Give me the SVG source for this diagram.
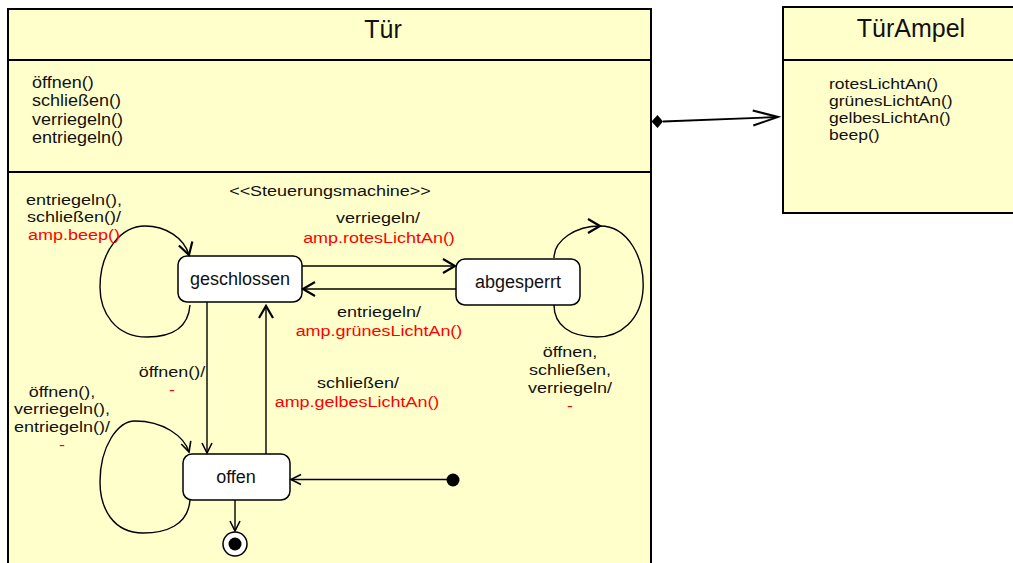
<svg xmlns="http://www.w3.org/2000/svg" width="1013" height="563" viewBox="0 0 1013 563">
<style>
  text { font-family: "Liberation Sans", Arial, sans-serif; fill: #111; }
  .cls { fill: #ffffcc; stroke: #000; stroke-width: 2; }
  .sep { stroke: #000; stroke-width: 2; }
  .title { font-size: 25px; text-anchor: middle; }
  .meth { font-size: 16px; }
  .ameth { font-size: 15px; }
  .lbl { font-size: 15.5px; text-anchor: middle; }
  .red { fill: #ff0000; }
  .state { fill: #fff; stroke: #000; stroke-width: 1.5; }
  .sname { font-size: 18px; text-anchor: middle; }
  .tr { fill: none; stroke: #000; stroke-width: 1.4; }
</style>
<defs>
  <marker id="open" markerUnits="userSpaceOnUse" markerWidth="20" markerHeight="20" viewBox="-16 -10 20 20" refX="0" refY="0" orient="auto">
    <path d="M-12,-7 L0,0 L-12,7" fill="none" stroke="#000" stroke-width="2.2"/>
  </marker>
  <marker id="small" markerUnits="userSpaceOnUse" markerWidth="16" markerHeight="16" viewBox="-12 -8 16 16" refX="0" refY="0" orient="auto">
    <path d="M-10,-5 L0,0 L-10,5" fill="none" stroke="#000" stroke-width="1.6"/>
  </marker>
  <marker id="big" markerUnits="userSpaceOnUse" markerWidth="32" markerHeight="20" viewBox="-28 -10 32 20" refX="0" refY="0" orient="auto">
    <path d="M-25,-7.5 L0,0 L-25,7.5" fill="none" stroke="#000" stroke-width="2"/>
  </marker>
</defs>

<!-- Class Tür -->
<g id="tuer">
  <rect class="cls" x="8" y="9" width="643" height="570"/>
  <line class="sep" x1="8" y1="60" x2="651" y2="60"/>
  <line class="sep" x1="8" y1="172" x2="651" y2="172"/>
  <text class="title" x="383" y="38">Tür</text>
  <g transform="scale(1.125 1)">
    <text class="meth" x="28.44" y="88">öffnen()</text>
    <text class="meth" x="28.44" y="106.5">schließen()</text>
    <text class="meth" x="28.44" y="125">verriegeln()</text>
    <text class="meth" x="28.44" y="143.5">entriegeln()</text>
  </g>
  <g transform="scale(1.16 1)">
    <text class="lbl" x="284.48" y="196">&lt;&lt;Steuerungsmachine&gt;&gt;</text>
  </g>
</g>

<!-- Class TürAmpel -->
<g id="tuerampel">
  <rect class="cls" x="783" y="7" width="240" height="206"/>
  <line class="sep" x1="783" y1="60" x2="1013" y2="60"/>
  <text class="title" x="911" y="37">TürAmpel</text>
  <g transform="scale(1.167 1)">
    <text class="ameth" x="710.4" y="89">rotesLichtAn()</text>
    <text class="ameth" x="710.4" y="106">grünesLichtAn()</text>
    <text class="ameth" x="710.4" y="123">gelbesLichtAn()</text>
    <text class="ameth" x="710.4" y="140">beep()</text>
  </g>
</g>

<!-- States -->
<g id="geschlossen">
  <rect class="state" x="178" y="256" width="124" height="46" rx="9"/>
  <text class="sname" x="240" y="285">geschlossen</text>
</g>
<g id="abgesperrt">
  <rect class="state" x="456" y="259" width="124" height="46" rx="9"/>
  <text class="sname" x="518" y="288">abgesperrt</text>
</g>
<g id="offen">
  <rect class="state" x="183" y="454" width="107" height="46" rx="9"/>
  <text class="sname" x="236" y="483">offen</text>
</g>
<g id="initial">
  <circle cx="453" cy="480" r="6.5" fill="#000"/>
</g>
<g id="final">
  <circle cx="235" cy="544" r="12" fill="#fff" stroke="#000" stroke-width="1.5"/>
  <circle cx="235" cy="544" r="6.5" fill="#000"/>
</g>

<!-- Connectors -->
<g id="connectors">
  <!-- association -->
  <line x1="663" y1="121.5" x2="778" y2="117" stroke="#000" stroke-width="1.8" marker-end="url(#big)"/>
  <polygon points="651.5,121.5 657.5,115 663,121.5 657.5,128" fill="#000"/>

  <!-- geschlossen -> abgesperrt -->
  <line class="tr" x1="302" y1="266" x2="455" y2="266" marker-end="url(#open)"/>
  <!-- abgesperrt -> geschlossen -->
  <line class="tr" x1="456" y1="289" x2="303" y2="289" marker-end="url(#open)"/>
  <!-- geschlossen -> offen -->
  <line class="tr" x1="207" y1="302" x2="207" y2="453" marker-end="url(#small)"/>
  <!-- offen -> geschlossen -->
  <line class="tr" x1="266" y1="454" x2="266" y2="306" marker-end="url(#open)"/>
  <!-- initial -> offen -->
  <line class="tr" x1="453" y1="479.5" x2="291" y2="479.5" marker-end="url(#small)"/>
  <!-- offen -> final -->
  <line class="tr" x1="235" y1="500" x2="235" y2="531" marker-end="url(#small)"/>

  <!-- self loop geschlossen -->
  <path class="tr" d="M190,305 C188,332 165,337 147,337 C115,337 100,312 100,287 C100,250 122,226 145,226 C166,226 184,238 189,255" marker-end="url(#open)"/>
  <!-- self loop offen -->
  <path class="tr" d="M190,500 C188,526 165,533 143,533 C113,533 100,508 100,482 C100,446 118,421 135,421 C163,421 184,436 189,452" marker-end="url(#small)"/>
  <!-- self loop abgesperrt -->
  <path class="tr" d="M554,258 C554,240 576,226 600,226" marker-end="url(#open)"/>
  <path class="tr" d="M600,226 C628,226 645,258 643,290 C641,320 620,337 597,337 C570,337 554,325 554,305"/>

  <!-- transition labels (slightly widened as in the reference) -->
  <g transform="scale(1.16 1)">
    <text class="lbl" x="63.79" y="205">entriegeln(),</text>
    <text class="lbl" x="63.79" y="222.5">schließen()/</text>
    <text class="lbl red" x="63.79" y="240">amp.beep()</text>

    <text class="lbl" x="325.86" y="223">verriegeln/</text>
    <text class="lbl red" x="326.72" y="243">amp.rotesLichtAn()</text>

    <text class="lbl" x="326.72" y="317">entriegeln/</text>
    <text class="lbl red" x="326.72" y="336">amp.grünesLichtAn()</text>

    <text class="lbl" x="491.38" y="357">öffnen,</text>
    <text class="lbl" x="491.38" y="375">schließen,</text>
    <text class="lbl" x="491.38" y="393">verriegeln/</text>
    <text class="lbl red" x="491.38" y="411">-</text>

    <text class="lbl" x="308.62" y="388">schließen/</text>
    <text class="lbl red" x="307.76" y="407">amp.gelbesLichtAn()</text>

    <text class="lbl" x="148.28" y="377">öffnen()/</text>
    <text class="lbl red" x="148.28" y="395">-</text>

    <text class="lbl" x="53.45" y="397">öffnen(),</text>
    <text class="lbl" x="53.45" y="414.5">verriegeln(),</text>
    <text class="lbl" x="53.45" y="432">entriegeln()/</text>
    <text class="lbl red" x="53.45" y="450">-</text>
  </g>
</g>
</svg>
